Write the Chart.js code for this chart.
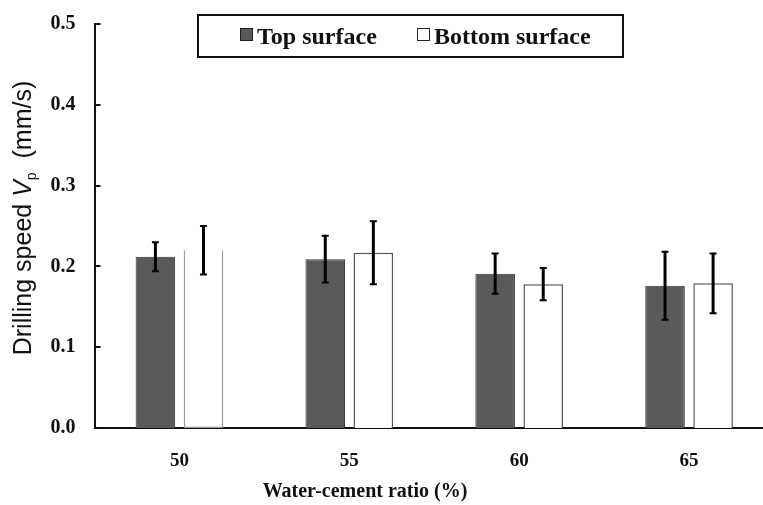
<!DOCTYPE html>
<html lang="en">
<head>
    <meta charset="UTF-8">
    <title>Drilling speed vs water-cement ratio</title>
    <script src="https://cdn.jsdelivr.net/npm/chart.js"></script>
    <style>
        html, body { margin: 0; padding: 0; background: #fff; overflow: hidden; }
        .wrap { width: 774px; height: 505px; }
    </style>
</head>
<body>
    <div class="wrap"><canvas id="chart"></canvas></div>

    <script>
        // Data
        const ratios = ['50', '55', '60', '65'];
        const topSurface = [0.212, 0.209, 0.191, 0.176];
        const topError = [0.018, 0.029, 0.025, 0.042];
        const bottomSurface = [0.220, 0.217, 0.178, 0.179];
        const bottomError = [0.030, 0.039, 0.020, 0.037];
        const yTicks = [0, 0.1, 0.2, 0.3, 0.4, 0.5];
        const errors = [topError, bottomError];

        const serif = "'Liberation Serif', 'Times New Roman', serif";
        const sans = "'Liberation Sans', Arial, sans-serif";

        // Error bars drawn over the bars
        const errorBars = {
            id: 'errorBars',
            afterDatasetsDraw(chart) {
                const ctx = chart.ctx;
                const y = chart.scales.y;
                ctx.save();
                ctx.strokeStyle = '#000';
                chart.data.datasets.forEach((ds, i) => {
                    chart.getDatasetMeta(i).data.forEach((bar, j) => {
                        const v = ds.data[j];
                        const e = errors[i][j];
                        const hi = y.getPixelForValue(v + e);
                        const lo = y.getPixelForValue(v - e);
                        ctx.lineWidth = 3;
                        ctx.beginPath();
                        ctx.moveTo(bar.x, hi);
                        ctx.lineTo(bar.x, lo);
                        ctx.stroke();
                        ctx.lineWidth = 2;
                        ctx.beginPath();
                        ctx.moveTo(bar.x - 3.5, hi);
                        ctx.lineTo(bar.x + 3.5, hi);
                        ctx.moveTo(bar.x - 3.5, lo);
                        ctx.lineTo(bar.x + 3.5, lo);
                        ctx.stroke();
                    });
                });
                ctx.restore();
            }
        };

        // Inward tick marks, axis titles and the boxed legend
        const decorations = {
            id: 'decorations',
            afterDraw(chart) {
                const ctx = chart.ctx;
                const area = chart.chartArea;
                const y = chart.scales.y;
                ctx.save();

                ctx.strokeStyle = '#111';
                ctx.lineWidth = 2;
                yTicks.forEach(t => {
                    const py = Math.round(y.getPixelForValue(t));
                    ctx.beginPath();
                    ctx.moveTo(area.left, py);
                    ctx.lineTo(area.left + 6, py);
                    ctx.stroke();
                });

                // x title
                ctx.fillStyle = '#111';
                ctx.font = 'bold 20px ' + serif;
                ctx.textAlign = 'center';
                ctx.textBaseline = 'middle';
                ctx.fillText('Water-cement ratio (%)', 365, 492);

                // y title with italic V and subscript p
                ctx.translate(31, 218);
                ctx.rotate(-Math.PI / 2);
                ctx.textAlign = 'left';
                ctx.textBaseline = 'alphabetic';
                const parts = [
                    { t: 'Drilling speed ', f: '25px ' + sans, dy: 0 },
                    { t: 'V', f: 'italic 25px ' + sans, dy: 0 },
                    { t: 'p', f: '14px ' + sans, dy: 5 },
                    { t: '  (mm/s)', f: '25px ' + sans, dy: 0 }
                ];
                let total = 0;
                parts.forEach(p => { ctx.font = p.f; p.w = ctx.measureText(p.t).width; total += p.w; });
                let px = -total / 2;
                parts.forEach(p => {
                    ctx.font = p.f;
                    ctx.fillText(p.t, px, p.dy);
                    px += p.w;
                });
                ctx.setTransform(1, 0, 0, 1, 0, 0);

                // legend box
                ctx.lineWidth = 2;
                ctx.strokeStyle = '#111';
                ctx.fillStyle = '#fff';
                ctx.fillRect(198, 15, 425, 42);
                ctx.strokeRect(198, 15, 425, 42);
                ctx.font = 'bold 24px ' + serif;
                ctx.textBaseline = 'alphabetic';
                const items = [{ x: 240 }, { x: 417 }];
                chart.data.datasets.forEach((ds, i) => {
                    const sx = items[i].x;
                    ctx.fillStyle = ds.backgroundColor;
                    ctx.fillRect(sx, 28, 13, 13);
                    ctx.lineWidth = 1;
                    ctx.strokeStyle = '#222';
                    ctx.strokeRect(sx + 0.5, 28.5, 12, 12);
                    ctx.fillStyle = '#111';
                    ctx.fillText(ds.label, sx + 17, 44);
                });
                ctx.restore();
            }
        };

        const ctx = document.getElementById('chart').getContext('2d');
        new Chart(ctx, {
            type: 'bar',
            data: {
                labels: ratios,
                datasets: [{
                    label: 'Top surface',
                    data: topSurface,
                    backgroundColor: '#5a5a5a',
                    borderColor: '#333',
                    borderWidth: 1
                }, {
                    label: 'Bottom surface',
                    data: bottomSurface,
                    backgroundColor: '#ffffff',
                    borderColor: c => c.dataIndex === 0 ? '#999' : '#555',
                    borderWidth: 1.5,
                    borderSkipped: c => c.dataIndex === 0 ? 'top' : 'start'
                }]
            },
            options: {
                responsive: true,
                maintainAspectRatio: false,
                animation: false,
                layout: { padding: { top: 24, left: 0, right: 0, bottom: 0 } },
                categoryPercentage: 0.566,
                barPercentage: 0.823,
                plugins: {
                    legend: { display: false },
                    tooltip: { enabled: false }
                },
                scales: {
                    x: {
                        grid: { display: false, drawTicks: false },
                        border: { display: true, color: '#111', width: 2 },
                        ticks: {
                            color: '#111',
                            padding: 22,
                            font: { family: serif, size: 19, weight: 'bold' }
                        },
                        afterFit: s => { s.height = 77; s.paddingLeft = 0; s.paddingRight = 0; }
                    },
                    y: {
                        min: 0,
                        max: 0.5,
                        grid: { display: false, drawTicks: false },
                        border: { display: true, color: '#111', width: 2 },
                        afterBuildTicks: s => { s.ticks = yTicks.map(v => ({ value: v })); },
                        ticks: {
                            color: '#111',
                            padding: 19,
                            font: { family: serif, size: 20, weight: 'bold' },
                            callback: v => Number(v).toFixed(1)
                        },
                        afterFit: s => { s.width = 94.5; s.paddingTop = 0; s.paddingBottom = 0; }
                    }
                }
            },
            plugins: [errorBars, decorations]
        });
    </script>
</body>
</html>
